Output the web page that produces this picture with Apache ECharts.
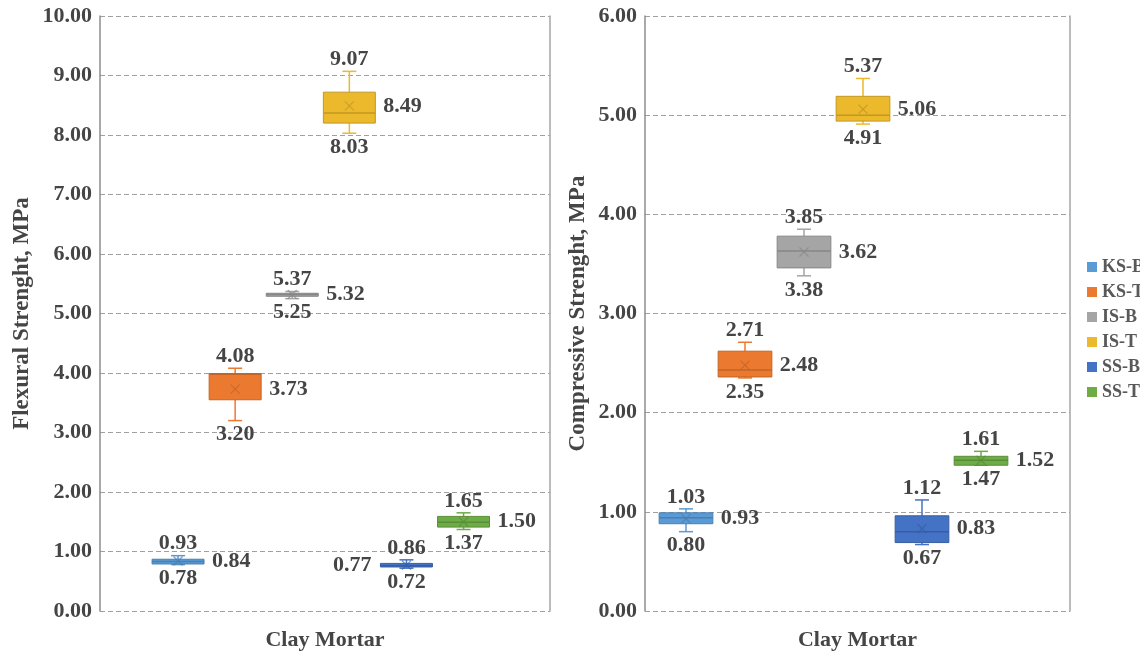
<!DOCTYPE html>
<html><head><meta charset="utf-8">
<script src="https://cdn.jsdelivr.net/npm/echarts@6/dist/echarts.min.js"></script>
<style>html,body{margin:0;padding:0;background:#fff}#c{width:1140px;height:659px}</style>
</head><body><div id="c"></div>
<script>
// ---------- data ----------
const seriesNames = ['KS-B', 'KS-T', 'IS-B', 'IS-T', 'SS-B', 'SS-T'];
const categoryLabel = ['Clay Mortar'];

const flexMin    = [0.78, 3.20, 5.25, 8.03, 0.72, 1.37];
const flexQ1     = [0.79, 3.55, 5.29, 8.20, 0.74, 1.41];
const flexMedian = [0.83, 3.98, 5.32, 8.37, 0.76, 1.49];
const flexQ3     = [0.87, 3.99, 5.34, 8.72, 0.80, 1.59];
const flexMax    = [0.93, 4.08, 5.37, 9.07, 0.86, 1.65];
const flexMean   = [0.84, 3.73, 5.32, 8.49, 0.77, 1.50];

const compMin    = [0.80, 2.35, 3.38, 4.91, 0.67, 1.47];
const compQ1     = [0.88, 2.36, 3.46, 4.94, 0.69, 1.47];
const compMedian = [0.94, 2.43, 3.63, 5.00, 0.80, 1.52];
const compQ3     = [0.99, 2.62, 3.78, 5.19, 0.96, 1.56];
const compMax    = [1.03, 2.71, 3.85, 5.37, 1.12, 1.61];
const compMean   = [0.93, 2.48, 3.62, 5.06, 0.83, 1.52];

const flexTicks = ['0.00','1.00','2.00','3.00','4.00','5.00','6.00','7.00','8.00','9.00','10.00'];
const compTicks = ['0.00','1.00','2.00','3.00','4.00','5.00','6.00'];

// ---------- styles ----------
const colors = ['#5B9BD5', '#EB7A30', '#A5A5A5', '#EBB92B', '#4472C4', '#6EAC45'];
const FONT = '"Liberation Serif", "Times New Roman", serif';
const TXT = '#454545';
const meanLabelOnLeft = { flex: ['SS-B'], comp: [] };

function darken(hex, f) {
  const n = parseInt(hex.slice(1), 16);
  const r = Math.round(((n >> 16) & 255) * f), g = Math.round(((n >> 8) & 255) * f), b = Math.round((n & 255) * f);
  return 'rgb(' + r + ',' + g + ',' + b + ')';
}

function makeRender(chartKey) {
  return function (params, api) {
    const i = api.value(0);
    const cx = api.coord([i, 0])[0];
    const band = api.size([1, 0])[0];
    const bw = band * 0.91;
    const y = k => api.coord([i, api.value(k)])[1];
    const yMin = y(1), yQ1 = y(2), yMed = y(3), yQ3 = y(4), yMax = y(5), yMean = y(6);
    const col = colors[i];
    const dk = darken(col, 0.82);
    const cap = 7;
    const txt = (text, x, yy, align, va) => ({
      type: 'text', z2: 20,
      style: { text, x, y: yy, align, verticalAlign: va, fill: TXT,
               fontSize: 22, fontWeight: 'bold', fontFamily: FONT }
    });
    const line = (x1, y1, x2, y2, stroke, w, op) => ({
      type: 'line', shape: { x1, y1, x2, y2 },
      style: { stroke, lineWidth: w, opacity: op == null ? 1 : op }
    });
    const left = meanLabelOnLeft[chartKey].indexOf(seriesNames[i]) >= 0;
    const m = 4.5;
    return {
      type: 'group',
      children: [
        line(cx, yMax, cx, yQ3, col, 1.5),
        line(cx, yQ1, cx, yMin, col, 1.5),
        line(cx - cap, yMax, cx + cap, yMax, col, 1.5),
        line(cx - cap, yMin, cx + cap, yMin, col, 1.5),
        { type: 'rect', shape: { x: cx - bw / 2, y: yQ3, width: bw, height: Math.max(yQ1 - yQ3, 3) },
          style: { fill: col, stroke: dk, lineWidth: 1 } },
        line(cx - bw / 2, yMed, cx + bw / 2, yMed, dk, 1.5),
        line(cx - m, yMean - m, cx + m, yMean + m, dk, 1.2, 0.7),
        line(cx - m, yMean + m, cx + m, yMean - m, dk, 1.2, 0.7),
        txt(api.value(5).toFixed(2), cx, yMax - 12, 'center', 'middle'),
        txt(api.value(1).toFixed(2), cx, yMin + 14, 'center', 'middle'),
        left ? txt(api.value(6).toFixed(2), cx - bw / 2 - 9, yMean, 'right', 'middle')
             : txt(api.value(6).toFixed(2), cx + bw / 2 + 8, yMean, 'left', 'middle')
      ]
    };
  };
}

function buildSeries(chartKey, xIdx, yIdx, mins, q1s, meds, q3s, maxs, means) {
  return seriesNames.map((name, i) => ({
    name, type: 'custom', xAxisIndex: xIdx, yAxisIndex: yIdx,
    itemStyle: { color: colors[i] },
    renderItem: makeRender(chartKey),
    encode: { x: 0, y: [1, 2, 3, 4, 5, 6] },
    data: [[i, mins[i], q1s[i], meds[i], q3s[i], maxs[i], means[i]]],
    clip: false, z: 5
  }));
}

function frameY(gridIndex, ticks, name, nameGap) {
  const lo = parseFloat(ticks[0]), step = parseFloat(ticks[1]) - lo;
  return [{
    gridIndex, type: 'value', min: lo, max: parseFloat(ticks[ticks.length - 1]), interval: step,
    axisLine: { show: true, lineStyle: { color: '#8c8c8c', width: 1.5 } },
    axisTick: { show: false },
    splitLine: { show: true, lineStyle: { color: '#a0a0a0', type: [5, 3], width: 1 } },
    axisLabel: { margin: 8, color: TXT, fontSize: 22, fontWeight: 'bold', fontFamily: FONT,
                 formatter: v => ticks[Math.round((v - lo) / step)] },
    name, nameLocation: 'middle', nameRotate: 90, nameGap,
    nameTextStyle: { color: TXT, fontSize: 23, fontWeight: 'bold', fontFamily: FONT }
  }, {
    gridIndex, type: 'value', position: 'right', min: lo, max: parseFloat(ticks[ticks.length - 1]),
    axisLine: { show: true, onZero: false, lineStyle: { color: '#a6a6a6', width: 1.5 } },
    axisTick: { show: false }, axisLabel: { show: false }, splitLine: { show: false }
  }];
}

function hiddenY(gridIndex, ticks) {
  return { gridIndex, type: 'value', show: false, min: parseFloat(ticks[0]), max: parseFloat(ticks[ticks.length - 1]),
           splitLine: { show: false } };
}

const frameX = gridIndex => ({
  gridIndex, type: 'category', data: categoryLabel,
  axisLine: { show: false }, axisTick: { show: false },
  axisLabel: { margin: 18, color: TXT, fontSize: 22, fontWeight: 'bold', fontFamily: FONT }
});
const boxX = gridIndex => ({ gridIndex, type: 'category', data: seriesNames, show: false });

const option = {
  animation: false,
  backgroundColor: '#fff',
  grid: [
    { left: 100, width: 450, top: 16, height: 595 },
    { left: 149.5, width: 342.6, top: 16, height: 595 },
    { left: 645, width: 425, top: 16, height: 595 },
    { left: 656.5, width: 354, top: 16, height: 595 }
  ],
  xAxis: [frameX(0), boxX(1), frameX(2), boxX(3)],
  yAxis: [
    ...frameY(0, flexTicks, 'Flexural Strenght, MPa', 66),
    hiddenY(1, flexTicks),
    ...frameY(2, compTicks, 'Compressive Strenght, MPa', 55),
    hiddenY(3, compTicks)
  ],
  legend: {
    data: seriesNames, orient: 'vertical', left: 1087, top: 258, padding: 0,
    icon: 'rect', itemWidth: 10, itemHeight: 10, itemGap: 7, selectedMode: false,
    textStyle: { color: '#595959', fontSize: 18, fontWeight: 'bold', fontFamily: FONT }
  },
  series: [
    ...buildSeries('flex', 1, 2, flexMin, flexQ1, flexMedian, flexQ3, flexMax, flexMean),
    ...buildSeries('comp', 3, 5, compMin, compQ1, compMedian, compQ3, compMax, compMean)
  ]
};

const chart = echarts.init(document.getElementById('c'), null, { renderer: 'canvas' });
chart.setOption(option);
</script>
</body></html>
